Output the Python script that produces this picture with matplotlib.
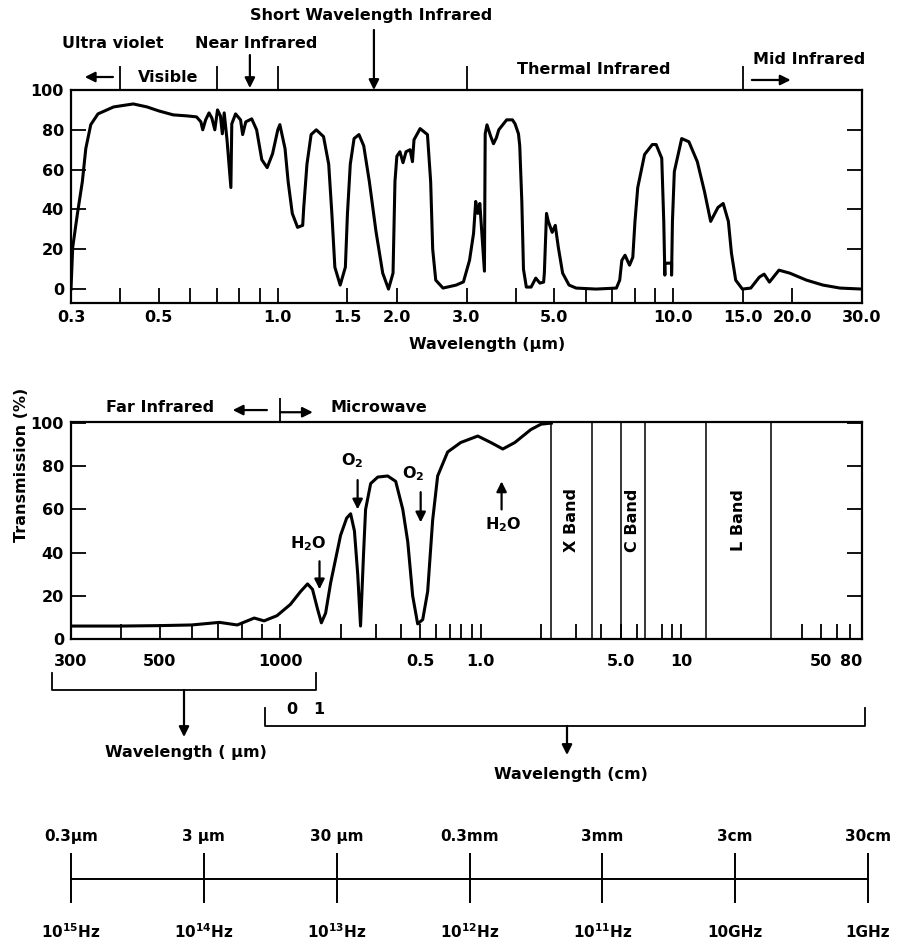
import numpy as np
import matplotlib
matplotlib.use('Agg')
import matplotlib.pyplot as plt
from matplotlib.ticker import NullFormatter

plt.rcParams['font.family'] = ['DejaVu Sans']
plt.rcParams['font.weight'] = 'bold'
plt.rcParams['mathtext.default'] = 'bf'

# top panel: transmission from 0.3 to 30 um
top_wl = [0.300, 0.303, 0.3115, 0.3205, 0.327, 0.3366, 0.351, 0.3845, 0.431, 0.467,
          0.500, 0.544, 0.589, 0.623, 0.639, 0.646, 0.657, 0.670, 0.681, 0.693,
          0.704, 0.716, 0.724, 0.732, 0.744, 0.761, 0.765, 0.782, 0.805, 0.815,
          0.830, 0.859, 0.884, 0.911, 0.940, 0.970, 1.000, 1.012, 1.043, 1.062,
          1.088, 1.122, 1.156, 1.163, 1.185, 1.214, 1.251, 1.305, 1.345, 1.370,
          1.394, 1.438, 1.482, 1.500, 1.525, 1.559, 1.604, 1.649, 1.704, 1.771,
          1.842, 1.905, 1.956, 1.978, 2.000, 2.036, 2.073, 2.110, 2.160, 2.190,
          2.210, 2.290, 2.390, 2.435, 2.464, 2.508, 2.616, 2.825, 2.947, 3.053,
          3.126, 3.165, 3.204, 3.242, 3.281, 3.330, 3.340, 3.345, 3.380, 3.450,
          3.510, 3.570, 3.620, 3.790, 3.920, 3.980, 4.060, 4.090, 4.140, 4.180,
          4.250, 4.370, 4.490, 4.600, 4.700, 4.720, 4.780, 4.830, 4.940, 5.030,
          5.120, 5.250, 5.450, 5.680, 6.380, 7.180, 7.320, 7.410, 7.550, 7.750,
          7.900, 8.000, 8.130, 8.460, 8.850, 9.050, 9.350, 9.460, 9.520, 9.520,
          9.900, 9.900, 9.950, 10.06, 10.50, 10.95, 11.50, 11.99, 12.43, 12.97,
          13.37, 13.78, 14.03, 14.38, 14.95, 15.70, 16.50, 16.97, 17.50, 18.50,
          19.70, 21.70, 23.90, 26.40, 30.00]
top_tr = [0, 21, 38, 54, 70.6, 82.6, 88, 91.5, 93, 91.5,
          89.5, 87.5, 87, 86.5, 84, 80, 85, 88.5, 86, 80,
          90, 87, 78, 88.5, 75, 51, 83, 88, 85, 77.6,
          84, 85.5, 80, 65, 61, 68, 80, 82.6, 70.6, 54,
          38, 31, 32, 41, 62.7, 77.6, 80, 76.6, 62.7, 37.8,
          11, 2, 11, 37.8, 62.7, 75.6, 77.6, 72, 54, 29,
          8, 0, 8, 54, 66.7, 69, 63.5, 69, 70, 64,
          75, 80.6, 77.6, 54, 20, 4.5, 0.5, 2, 3.6, 14.4,
          28, 44, 38, 43, 28, 9, 60, 78, 82.5, 77,
          73, 76, 80, 85, 85, 83, 78, 72, 44, 10,
          1, 1, 5.5, 3, 3.5, 8, 38, 34, 28.5, 32,
          21, 8, 2, 0.5, 0, 0.5, 4.5, 14.4, 17, 12,
          16, 34, 51, 67.6, 72.6, 72.6, 65.7, 34, 7, 13,
          13, 7, 34, 59, 75.6, 74, 64, 49, 34, 41,
          43, 34, 18, 4.5, 0, 0.5, 6, 7.5, 3.5, 9.5,
          8, 4.5, 2, 0.5, 0]
top_major = [0.3, 0.5, 1.0, 1.5, 2.0, 3.0, 5.0, 10.0, 15.0, 20.0, 30.0]
top_major_lbl = ['0.3', '0.5', '1.0', '1.5', '2.0', '3.0', '5.0', '10.0', '15.0', '20.0', '30.0']
top_minor = [0.4, 0.6, 0.7, 0.8, 0.9, 4.0, 6.0, 7.0, 8.0, 9.0]
region_edges = [0.4, 0.7, 1.0, 3.0, 15.0]

# bottom panel: 300 um to 80 cm (x in cm)
bot_wl = [0.0300, 0.0400, 0.0500, 0.0600, 0.0704, 0.0780, 0.0860, 0.0910, 0.0980,
          0.112, 0.126, 0.1365, 0.1445, 0.153, 0.160, 0.168, 0.178, 0.1995, 0.214,
          0.224, 0.234, 0.243, 0.251, 0.260, 0.266, 0.282, 0.306, 0.343, 0.376,
          0.408, 0.432, 0.457, 0.484, 0.513, 0.543, 0.575, 0.609, 0.683, 0.794,
          0.966, 1.122, 1.288, 1.479, 1.778, 2.000, 2.250]
bot_tr = [6, 6, 6.2, 6.5, 7.7, 6.5, 9.7, 8.4, 10.8,
          16, 22, 25.5, 23, 14, 7.5, 12, 26, 48, 56,
          58, 50, 30, 6, 40, 60, 72, 75, 75.5, 73,
          60, 45, 20, 7, 9, 22, 55, 75.5, 86.6, 91,
          94, 91, 88, 91, 97, 99.5, 100]
bot_major = [0.03, 0.05, 0.1, 0.5, 1.0, 5.0, 10, 50, 80]
bot_major_lbl = ['300', '500', '1000', '0.5', '1.0', '5.0', '10', '50', '80']
bot_minor = [0.04, 0.06, 0.07, 0.08, 0.09, 0.2, 0.3, 0.4, 0.6, 0.7, 0.8, 0.9,
             2, 3, 4, 6, 8, 9, 40, 60, 70]
band_names = ['X Band', 'C Band', 'L Band']
band_lo = [2.25, 5.0, 13.3]
band_hi = [3.6, 6.6, 28.0]

# frequency / wavelength scale (um)
scale_um = [0.3, 3, 30, 300, 3000, 30000, 300000]
scale_wl_lbl = ['0.3µm', '3 µm', '30 µm', '0.3mm', '3mm', '3cm', '30cm']
scale_hz_lbl = ['10$^{15}$Hz', '10$^{14}$Hz', '10$^{13}$Hz', '10$^{12}$Hz',
                '10$^{11}$Hz', '10GHz', '1GHz']

W, H = 897, 943
FS = 11.5


def px_box(l, t, r, b):
    return [l / W, 1 - b / H, (r - l) / W, (b - t) / H]


def arrow(ax, tip, tail, **kw):
    ax.annotate('', xy=tip, xytext=tail,
                arrowprops=dict(arrowstyle='-|>', color='k', lw=1.6,
                                mutation_scale=15, shrinkA=0, shrinkB=0), **kw)


def fwd(x):
    x = np.maximum(np.asarray(x, dtype=float), 1e-9)
    return np.where(x <= 0.1, 2 * np.log10(x / 0.1), np.log10(x / 0.1))


def inv(p):
    p = np.asarray(p, dtype=float)
    return np.where(p <= 0, 0.1 * 10 ** (p / 2), 0.1 * 10 ** p)


def style_axes(ax, xpad):
    for s in ax.spines.values():
        s.set_linewidth(1.6)
    ax.tick_params(axis='both', which='both', direction='in', length=10.5,
                   width=1.3, labelsize=FS, pad=5)
    ax.tick_params(axis='y', right=True)
    ax.tick_params(axis='x', top=False, pad=xpad)


fig = plt.figure(figsize=(W / 100, H / 100), dpi=100)

# ---- top panel
ax1 = fig.add_axes(px_box(71, 90, 862, 303))
ax1.plot(top_wl, top_tr, color='k', lw=2.2, solid_joinstyle='round')
ax1.set_xscale('log')
ax1.set_xlim(0.3, 30)
ax1.set_ylim(-7, 100)
ax1.set_xticks(top_major)
ax1.set_xticklabels(top_major_lbl)
ax1.set_xticks(top_minor, minor=True)
ax1.xaxis.set_minor_formatter(NullFormatter())
ax1.set_yticks([0, 20, 40, 60, 80, 100])
style_axes(ax1, 5)

xt = ax1.get_xaxis_transform()
ax1.vlines(region_edges, 1.0, 1.113, transform=xt, color='k', lw=1.3, clip_on=False)
hdr = dict(xycoords=xt, ha='center', va='center', fontsize=FS, fontweight='bold')
ax1.annotate('Visible', (np.sqrt(0.4 * 0.7), 1.061), **hdr)
ax1.annotate('Ultra violet', (0.383, 1.22), **hdr)
ax1.annotate('Near Infrared', (0.88, 1.22), **hdr)
ax1.annotate('Short Wavelength Infrared', (1.72, 1.352), **hdr)
ax1.annotate('Thermal Infrared', (6.3, 1.094), **hdr)
ax1.annotate('Mid Infrared', (22.0, 1.141), **hdr)
arrow(ax1, (0.325, 1.061), (0.383, 1.061), xycoords=xt, textcoords=xt)
arrow(ax1, (0.85, 1.009), (0.85, 1.164), xycoords=xt, textcoords=xt)
arrow(ax1, (1.75, 1.0), (1.75, 1.282), xycoords=xt, textcoords=xt)
arrow(ax1, (19.8, 1.047), (15.8, 1.047), xycoords=xt, textcoords=xt)

# ---- bottom panel
ax2 = fig.add_axes(px_box(71, 422, 862, 639))
ax2.plot(bot_wl, bot_tr, color='k', lw=2.2, solid_joinstyle='round')
ax2.set_xscale('function', functions=(fwd, inv))
ax2.set_xlim(0.03, 80)
ax2.set_ylim(0, 100.5)
ax2.set_xticks(bot_major)
ax2.set_xticklabels(bot_major_lbl)
ax2.set_xticks(bot_minor, minor=True)
ax2.xaxis.set_minor_formatter(NullFormatter())
ax2.set_yticks([0, 20, 40, 60, 80, 100])
style_axes(ax2, 11)
ax2.get_xticklabels()[-1].set_ha('right')

xt2 = ax2.get_xaxis_transform()
ax2.vlines(band_lo + band_hi, 0, 1, transform=xt2, color='k', lw=1.1)
for name, lo, hi in zip(band_names, band_lo, band_hi):
    ax2.text(np.sqrt(lo * hi), 55, name, rotation=90, ha='center', va='center',
             fontsize=FS, fontweight='bold')

ax2.vlines([0.1], 1.0, 1.11, transform=xt2, color='k', lw=1.3, clip_on=False)
hdr2 = dict(xycoords=xt2, ha='center', va='center', fontsize=FS, fontweight='bold')
ax2.annotate('Far Infrared', (0.05, 1.065), **hdr2)
ax2.annotate('Microwave', (0.31, 1.065), **hdr2)
arrow(ax2, (0.076, 1.055), (0.0925, 1.055), xycoords=xt2, textcoords=xt2)
arrow(ax2, (0.145, 1.045), (0.1, 1.045), xycoords=xt2, textcoords=xt2)

lab = dict(ha='center', va='center', fontsize=FS, fontweight='bold')
ax2.text(0.138, 44, 'H$_2$O', **lab)
arrow(ax2, (0.1566, 23), (0.1566, 36))
ax2.text(0.229, 82.4, 'O$_2$', **lab)
arrow(ax2, (0.2427, 60), (0.2427, 73.6))
ax2.text(0.462, 76.4, 'O$_2$', **lab)
arrow(ax2, (0.501, 54), (0.501, 68))
ax2.text(1.30, 53, 'H$_2$O', **lab)
arrow(ax2, (1.27, 73), (1.27, 60))

# ---- frequency scale
ax3 = fig.add_axes(px_box(71, 820, 868, 943))
ax3.set_xscale('log')
ax3.set_xlim(scale_um[0], scale_um[-1])
ax3.set_ylim(0, 1)
ax3.axis('off')
ax3.plot([scale_um[0], scale_um[-1]], [0.52, 0.52], color='k', lw=1.4, clip_on=False)
ax3.vlines(scale_um, 0.325, 0.732, color='k', lw=1.4, clip_on=False)
for u, a, b in zip(scale_um, scale_wl_lbl, scale_hz_lbl):
    ax3.text(u, 0.862, a, ha='center', va='center', fontsize=FS - 0.5, fontweight='bold')
    ax3.text(u, 0.089, b, ha='center', va='center', fontsize=FS - 0.5, fontweight='bold')

# ---- overlay for free labels and brackets (pixel coords)
ax0 = fig.add_axes([0, 0, 1, 1])
ax0.set_xlim(0, W)
ax0.set_ylim(H, 0)
ax0.axis('off')
ax0.text(487, 345, 'Wavelength (µm)', **lab)
ax0.text(22, 465, 'Transmission (%)', rotation=90, **lab)
ax0.plot([52, 52, 316, 316], [673, 690, 690, 673], color='k', lw=1.3)
arrow(ax0, (184, 737), (184, 690))
ax0.text(186, 753, 'Wavelength ( µm)', **lab)
ax0.plot([265, 265, 865, 865], [708, 726, 726, 708], color='k', lw=1.3)
ax0.text(292, 710, '0', **lab)
ax0.text(319, 710, '1', **lab)
arrow(ax0, (567, 755), (567, 726))
ax0.text(571, 775, 'Wavelength (cm)', **lab)

fig.savefig('out.png', dpi=100)
